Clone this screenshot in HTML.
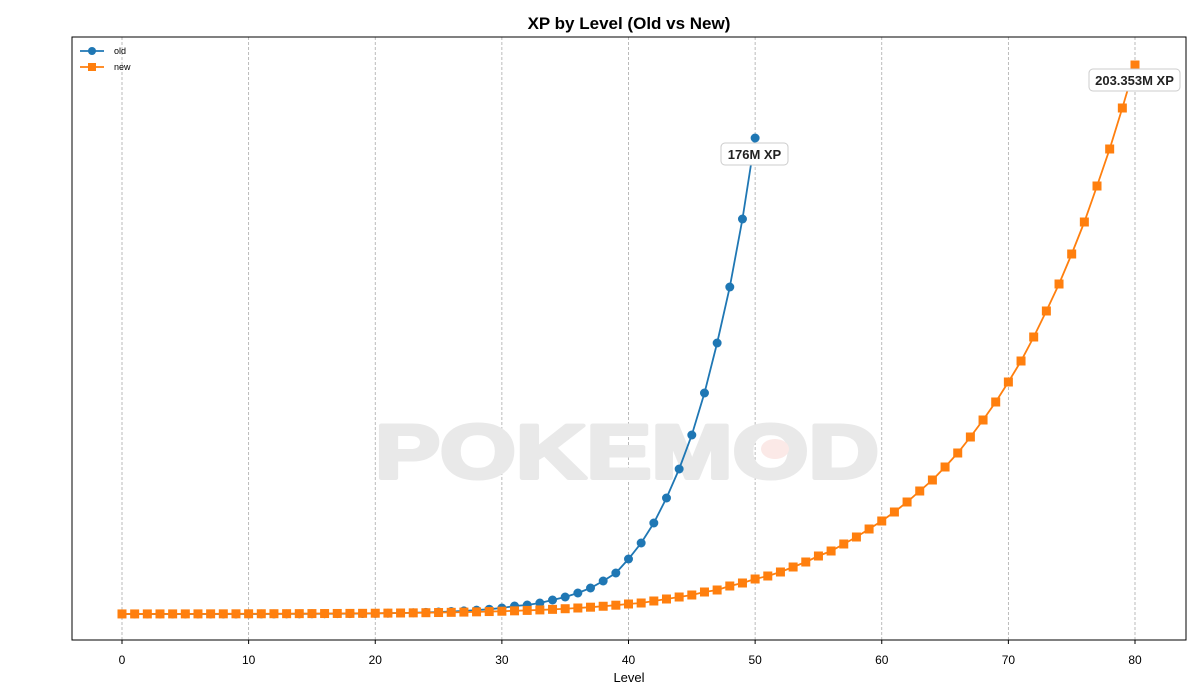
<!DOCTYPE html>
<html><head><meta charset="utf-8"><style>
body{margin:0;background:#fff;}
svg{display:block;font-family:"Liberation Sans",Arial,sans-serif;}
</style></head><body>
<svg id="s" width="1200" height="700" viewBox="0 0 1200 700" xmlns="http://www.w3.org/2000/svg">
<rect width="1200" height="700" fill="#fff"/>
<text x="629" y="29" text-anchor="middle" font-size="17" font-weight="bold">XP by Level (Old vs New)</text>
<g id="grid"></g>
<text x="627" y="478" text-anchor="middle" font-size="76" font-weight="bold" fill="#e9e9e9" stroke="#e9e9e9" stroke-width="4" stroke-linejoin="round" textLength="504" lengthAdjust="spacingAndGlyphs">POKEMOD</text>
<ellipse cx="775" cy="449" rx="14" ry="10" fill="#fbe9e7"/>
<g id="series"></g>
<rect x="72" y="37" width="1114" height="603" fill="none" stroke="#000" stroke-width="1"/>
<g id="ticks"></g>
<text x="629" y="682" text-anchor="middle" font-size="13">Level</text>
<rect x="721" y="143" width="67" height="22" rx="4" fill="#fff" stroke="#ccc"/>
<text x="754.5" y="159" text-anchor="middle" font-size="13" font-weight="bold" fill="#222">176M XP</text>
<rect x="1089" y="69" width="91" height="22" rx="4" fill="#fff" stroke="#ccc"/>
<text x="1134.5" y="85" text-anchor="middle" font-size="13" font-weight="bold" fill="#222">203.353M XP</text>
<g font-size="9">
<line x1="80" y1="51" x2="104" y2="51" stroke="#1f77b4" stroke-width="1.8"/><circle cx="92" cy="51" r="4" fill="#1f77b4"/>
<text x="114" y="54">old</text>
<line x1="80" y1="67" x2="104" y2="67" stroke="#ff7f0e" stroke-width="1.8"/><rect x="88" y="63" width="8" height="8" fill="#ff7f0e"/>
<text x="114" y="70">new</text>
</g>
</svg>
<script>
var NS="http://www.w3.org/2000/svg";
function X(l){return 122+l*(1135-122)/80;}
function el(p,t,a){var e=document.createElementNS(NS,t);for(var k in a)e.setAttribute(k,a[k]);p.appendChild(e);return e;}
var g=document.getElementById('grid'),tk=document.getElementById('ticks'),sr=document.getElementById('series');
for(var i=0;i<=80;i+=10){var x=X(i);
el(g,'line',{x1:x,y1:37,x2:x,y2:640,stroke:'#aaa','stroke-width':0.8,'stroke-dasharray':'3,2'});
el(tk,'line',{x1:x,y1:640,x2:x,y2:644,stroke:'#000'});
var t=el(tk,'text',{x:x,y:664,'text-anchor':'middle','font-size':12});t.textContent=i;}
var oldH={50:476,49:395,48:327,47:271,46:221,45:179,44:145,43:116,42:91,41:71,40:55,39:41,38:33,37:26,36:21,35:17,34:14,33:11,32:9,31:8,30:6};
var newY={80:65,79:108,78:149,77:186,76:222,75:254,74:284,73:311,72:337,71:361,70:382,69:402,68:420,67:437,66:453,65:467,64:480,63:491,62:502,61:512,60:521,59:529,58:537,57:544,56:551,55:556,54:562,53:567,52:572,51:576,50:579,49:583,48:586,47:590,46:592,45:595,44:597,43:599,42:601,41:603,40:604};
var op=[],np=[];
for(var l=0;l<=50;l++){var h=oldH[l]!==undefined?oldH[l]:6*Math.pow(0.8,30-l);op.push([X(l),614-h]);}
for(var l=0;l<=80;l++){var y=newY[l]!==undefined?newY[l]:614-10*Math.pow(0.88,40-l);np.push([X(l),y]);}
el(sr,'polyline',{points:op.map(function(p){return p.join(',')}).join(' '),fill:'none',stroke:'#1f77b4','stroke-width':1.8});
op.forEach(function(p){el(sr,'circle',{cx:p[0],cy:p[1],r:4.5,fill:'#1f77b4'});});
el(sr,'polyline',{points:np.map(function(p){return p.join(',')}).join(' '),fill:'none',stroke:'#ff7f0e','stroke-width':1.8});
np.forEach(function(p){el(sr,'rect',{x:p[0]-4.5,y:p[1]-4.5,width:9,height:9,fill:'#ff7f0e'});});
</script>
</body></html>
